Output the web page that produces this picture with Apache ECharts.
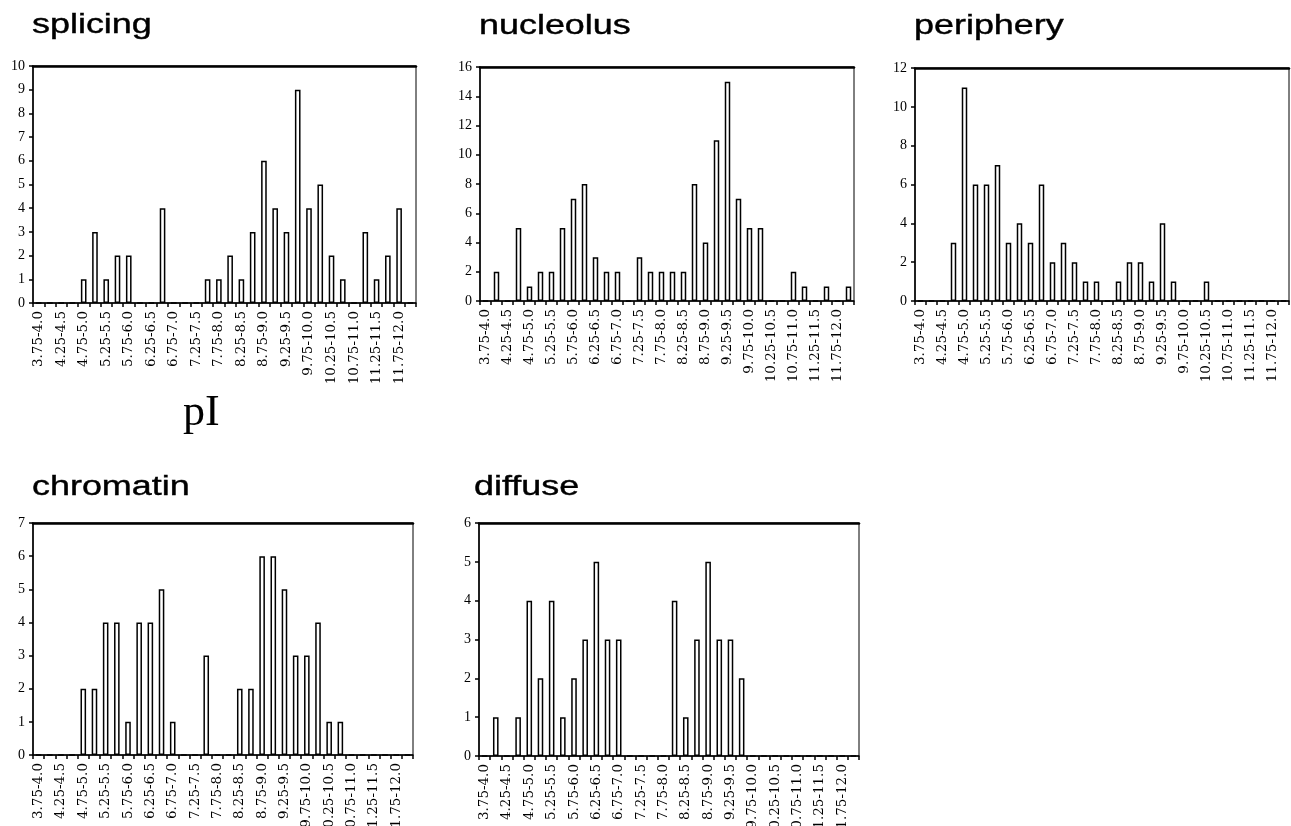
<!DOCTYPE html>
<html>
<head>
<meta charset="utf-8">
<title>pI distribution</title>
<script src="https://cdn.jsdelivr.net/npm/echarts@6/dist/echarts.min.js"></script>
<style>
  html, body { margin: 0; padding: 0; background: #fff; }
  #pIChart { width: 1291px; height: 826px; }
</style>
</head>
<body>
<div id="pIChart"></div>
<script>
// pI bins, 0.25 wide (only every other one gets a label)
const pIBins = [
  "3.75-4.0", "4.0-4.25", "4.25-4.5", "4.5-4.75", "4.75-5.0", "5.0-5.25",
  "5.25-5.5", "5.5-5.75", "5.75-6.0", "6.0-6.25", "6.25-6.5", "6.5-6.75",
  "6.75-7.0", "7.0-7.25", "7.25-7.5", "7.5-7.75", "7.75-8.0", "8.0-8.25",
  "8.25-8.5", "8.5-8.75", "8.75-9.0", "9.0-9.25", "9.25-9.5", "9.5-9.75",
  "9.75-10.0", "10.0-10.25", "10.25-10.5", "10.5-10.75", "10.75-11.0", "11.0-11.25",
  "11.25-11.5", "11.5-11.75", "11.75-12.0", "12.0-12.25"
];

// counts per bin
const splicing  = [0, 0, 0, 0, 1, 3, 1, 2, 2, 0, 0, 4, 0, 0, 0, 1, 1, 2, 1, 3, 6, 4, 3, 9, 4, 5, 2, 1, 0, 3, 1, 2, 4, 0];
const nucleolus = [0, 2, 0, 5, 1, 2, 2, 5, 7, 8, 3, 2, 2, 0, 3, 2, 2, 2, 2, 8, 4, 11, 15, 7, 5, 5, 0, 0, 2, 1, 0, 1, 0, 1];
const periphery = [0, 0, 0, 3, 11, 6, 6, 7, 3, 4, 3, 6, 2, 3, 2, 1, 1, 0, 1, 2, 2, 1, 4, 1, 0, 0, 1, 0, 0, 0, 0, 0, 0, 0];
const chromatin = [0, 0, 0, 0, 2, 2, 4, 4, 1, 4, 4, 5, 1, 0, 0, 3, 0, 0, 2, 2, 6, 6, 5, 3, 3, 4, 1, 1, 0, 0, 0, 0, 0, 0];
const diffuse   = [0, 1, 0, 1, 4, 2, 4, 1, 2, 3, 5, 3, 3, 0, 0, 0, 0, 4, 1, 3, 5, 3, 3, 2, 0, 0, 0, 0, 0, 0, 0, 0, 0, 0];

// y axis tops and steps
const yMax  = [10, 16, 12, 7, 6];
const yStep = [1, 2, 2, 1, 1];

const panels = [
  { title: "splicing",  data: splicing,  left: 33,  top: 66,  width: 383, height: 237, tx: 32,  ty: 26 },
  { title: "nucleolus", data: nucleolus, left: 480, top: 67,  width: 374, height: 234, tx: 479, ty: 27 },
  { title: "periphery", data: periphery, left: 915, top: 68,  width: 374, height: 233, tx: 914, ty: 27 },
  { title: "chromatin", data: chromatin, left: 33,  top: 523, width: 380, height: 232, tx: 32,  ty: 488 },
  { title: "diffuse",   data: diffuse,   left: 479, top: 523, width: 380, height: 233, tx: 474, ty: 488 }
];

let myChart = echarts.init(document.getElementById("pIChart"));

let grids = [], xAxes = [], yAxes = [], series = [], texts = [];

panels.forEach((p, i) => {
  grids.push({
    left: p.left, top: p.top, width: p.width, height: p.height,
    outerBoundsMode: "none", // labels may run off the bottom, like the scan
    show: true, borderColor: "#000", borderWidth: 1
  });
  // bottom axis with labels
  xAxes.push({
    type: "category",
    gridIndex: i,
    data: pIBins,
    axisLine: { lineStyle: { color: "#000", width: 1.5 } },
    axisTick: { show: true, interval: 0, length: 4, lineStyle: { color: "#000", width: 1.5 } },
    axisLabel: {
      interval: 1,
      rotate: 90,
      margin: 8,
      color: "#000",
      fontFamily: "DejaVu Serif",
      fontSize: 13.5
    }
  });
  // top line of the frame is heavier
  xAxes.push({
    type: "category",
    gridIndex: i,
    position: "top",
    data: pIBins,
    axisLine: { lineStyle: { color: "#000", width: 2.5 } },
    axisTick: { show: false },
    axisLabel: { show: false }
  });
  yAxes.push({
    type: "value",
    gridIndex: i,
    min: 0,
    max: yMax[i],
    interval: yStep[i],
    splitLine: { show: false },
    axisLine: { show: true, lineStyle: { color: "#000", width: 1.5 } },
    axisTick: { show: true, length: 4, lineStyle: { color: "#000", width: 1.5 } },
    axisLabel: {
      margin: 8,
      color: "#000",
      fontFamily: "Liberation Serif",
      fontSize: 14
    }
  });
  series.push({
    name: p.title,
    type: "bar",
    xAxisIndex: i * 2,
    yAxisIndex: i,
    barWidth: "50%",
    silent: true,
    itemStyle: { color: "#fff", borderColor: "#000", borderWidth: 1.5 },
    data: p.data
  });
  texts.push({
    type: "text",
    x: p.tx,
    y: p.ty,
    scaleX: 1.33,
    style: {
      text: p.title,
      font: '27px "Liberation Sans"',
      fill: "#000",
      stroke: "#000",
      lineWidth: 0.4,
      verticalAlign: "middle"
    }
  });
});

texts.push({
  type: "text",
  x: 183,
  y: 413,
  style: {
    text: "pI",
    font: '44px "Liberation Serif"',
    fill: "#000",
    verticalAlign: "middle"
  }
});

myChart.setOption({
  animation: false,
  backgroundColor: "#fff",
  grid: grids,
  xAxis: xAxes,
  yAxis: yAxes,
  series: series,
  graphic: texts
});
</script>
</body>
</html>
